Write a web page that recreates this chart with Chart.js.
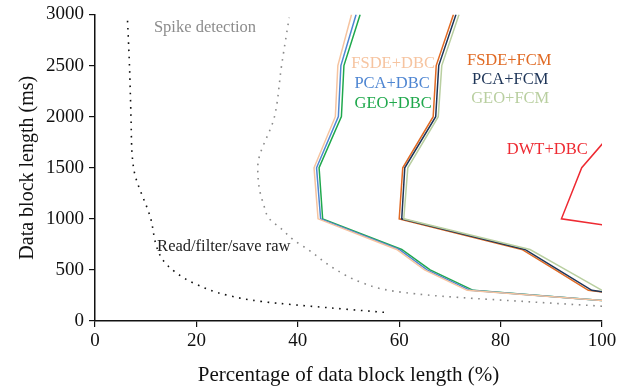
<!DOCTYPE html>
<html>
<head>
<meta charset="utf-8">
<script src="https://cdn.jsdelivr.net/npm/chart.js@4.4.1/dist/chart.umd.min.js"></script>
<style>
  html, body { margin: 0; padding: 0; background: #fff; }
  #wrap { width: 635px; height: 392px; }
</style>
</head>
<body>
<div id="wrap"><canvas id="blockChart" width="635" height="392"></canvas></div>
<script>
"use strict";

// block lengths (ms) the clustering pipelines were timed at
const blockMs = [200, 300, 500, 700, 1000, 1500, 2000, 2500, 3000];

// share of the block length used (%), one array per pipeline
const fsdeDbc = [100, 73.4, 65.0, 59.5, 44.0, 43.2, 47.4, 47.9, 50.6];
const pcaDbc = [100, 74.0, 65.5, 60.0, 44.5, 43.7, 48.0, 48.5, 51.5];
const geoDbc = [100, 74.6, 66.1, 60.5, 44.9, 44.2, 48.6, 49.1, 52.3];
const fsdeFcm = [114, 97.3, 90.8, 84.2, 60.0, 60.7, 66.7, 67.3, 70.7];
const pcaFcm = [112, 98.0, 91.4, 84.8, 60.5, 61.1, 67.2, 67.8, 71.2];
const geoFcm = [105, 100, 92.9, 85.8, 60.9, 61.7, 67.7, 68.4, 71.8];

const dwtMs = [700, 1000, 1500, 2000];
const dwtDbc = [133, 92, 96, 104.7];

// reference curves (dotted)
const rawMs = [85, 130, 190, 250, 365, 480, 590, 720, 1000, 1500, 2000, 2500, 2960];
const readRaw = [57, 46, 33, 26.3, 19.7, 15.8, 13.5, 12.2, 11.0, 7.6, 7.1, 6.8, 6.4];
const spikeMs = [145, 190, 230, 255, 300, 380, 510, 700, 800, 900, 1000, 1150, 1300, 1500, 2000, 2500, 2970];
const spikeDet = [100, 85, 72, 65.4, 58, 52.4, 47.3, 42, 39, 36.8, 34.4, 33.2, 32.4, 32.1, 35.4, 36.8, 38.3];

const xTicks = [0, 20, 40, 60, 80, 100];
const yTicks = [0, 500, 1000, 1500, 2000, 2500, 3000];

// text labels placed in data units: [text, pct, ms, colour]
const seriesLabels = [
  ['Spike detection', 21.7, 2875, '#8c8c8c'],
  ['Read/filter/save raw', 25.4, 726, '#222222'],
  ['FSDE+DBC', 58.8, 2517, '#f6c4a0'],
  ['PCA+DBC', 58.6, 2323, '#4f86d2'],
  ['GEO+DBC', 58.8, 2130, '#1fa84c'],
  ['FSDE+FCM', 81.7, 2546, '#e06a24'],
  ['PCA+FCM', 81.9, 2362, '#1e3558'],
  ['GEO+FCM', 81.9, 2178, '#b9cfa0'],
  ['DWT+DBC', 89.2, 1675, '#ee2a32']
];

function toPoints(xs, ys) {
  const pts = [];
  for (let i = 0; i < xs.length; i++) {
    pts.push({ x: xs[i], y: ys[i] });
  }
  return pts;
}

function solid(label, xs, ys, color) {
  return {
    label: label,
    data: toPoints(xs, ys),
    showLine: true,
    borderColor: color,
    backgroundColor: color,
    borderWidth: 1.5,
    pointRadius: 0,
    tension: 0,
    clip: 0
  };
}

// smooth dotted curve, interpolated along the ms axis
function dotted(label, xs, ys, color) {
  return {
    label: label,
    data: toPoints(xs, ys),
    showLine: true,
    indexAxis: 'y',
    cubicInterpolationMode: 'monotone',
    borderColor: color,
    borderWidth: 1.6,
    borderDash: [1.6, 5.6],
    pointRadius: 0,
    clip: 0
  };
}

const labelPlugin = {
  id: 'seriesLabels',
  afterDatasetsDraw(chart) {
    const ctx = chart.ctx;
    const xs = chart.scales.x;
    const ys = chart.scales.y;
    ctx.save();
    ctx.font = "16.5px 'Liberation Serif', 'DejaVu Serif', serif";
    ctx.textAlign = 'center';
    ctx.textBaseline = 'middle';
    for (let i = 0; i < seriesLabels.length; i++) {
      const l = seriesLabels[i];
      ctx.fillStyle = l[3];
      ctx.fillText(l[0], xs.getPixelForValue(l[1]), ys.getPixelForValue(l[2]));
    }
    ctx.restore();
  }
};

Chart.defaults.font.family = "'Liberation Serif', 'DejaVu Serif', serif";
Chart.defaults.color = '#111';

const ctx = document.getElementById('blockChart').getContext('2d');

new Chart(ctx, {
  type: 'scatter',
  data: {
    datasets: [
      dotted('Read/filter/save raw', readRaw, rawMs, '#111111'),
      dotted('Spike detection', spikeDet, spikeMs, '#8a8a8a'),
      solid('GEO+FCM', geoFcm, blockMs, '#b9cfa0'),
      solid('PCA+FCM', pcaFcm, blockMs, '#1e3558'),
      solid('FSDE+FCM', fsdeFcm, blockMs, '#e06a24'),
      solid('FSDE+DBC', fsdeDbc, blockMs, '#f6c4a0'),
      solid('PCA+DBC', pcaDbc, blockMs, '#4f86d2'),
      solid('GEO+DBC', geoDbc, blockMs, '#1fa84c'),
      solid('DWT+DBC', dwtDbc, dwtMs, '#ee2a32')
    ]
  },
  options: {
    responsive: false,
    animation: false,
    layout: { padding: { top: 11, right: 33, left: 0, bottom: 0 } },
    plugins: {
      legend: { display: false },
      tooltip: { enabled: false }
    },
    scales: {
      x: {
        type: 'linear',
        min: 0,
        max: 100,
        afterBuildTicks(axis) {
          axis.ticks = xTicks.map(v => ({ value: v }));
        },
        afterFit(axis) {
          axis.height = 71;
        },
        grid: { drawOnChartArea: false, drawTicks: true, tickLength: 6, color: '#111', lineWidth: 1.2 },
        border: { display: true, color: '#111', width: 1.5 },
        ticks: { font: { size: 19, lineHeight: 1 }, color: '#111', padding: 5, callback: v => String(v) },
        title: {
          display: true,
          text: 'Percentage of data block length (%)',
          font: { size: 21 },
          color: '#111',
          padding: { top: 4 }
        }
      },
      y: {
        type: 'linear',
        min: 0,
        max: 3000,
        afterBuildTicks(axis) {
          axis.ticks = yTicks.map(v => ({ value: v }));
        },
        afterFit(axis) {
          axis.width = 95;
        },
        grid: { drawOnChartArea: false, drawTicks: true, tickLength: 6, color: '#111', lineWidth: 1.2 },
        border: { display: true, color: '#111', width: 1.5 },
        ticks: { font: { size: 19, lineHeight: 1 }, color: '#111', padding: 5, callback: v => String(v) },
        title: {
          display: true,
          text: 'Data block length (ms)',
          font: { size: 20 },
          color: '#111',
          padding: { top: 16, bottom: 0 }
        }
      }
    }
  },
  plugins: [labelPlugin]
});
</script>
</body>
</html>
